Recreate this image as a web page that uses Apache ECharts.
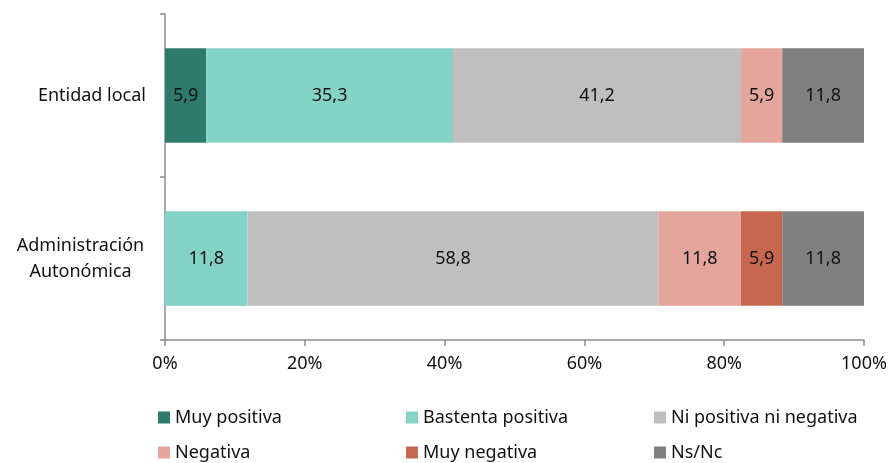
<!DOCTYPE html>
<html><head><meta charset="utf-8">
<script src="https://cdn.jsdelivr.net/npm/echarts@6/dist/echarts.min.js"></script>
<style>html,body{margin:0;padding:0;background:#fff}#c{width:891px;height:463px}</style>
</head><body><div id="c"></div>
<script>
const categories = ['Entidad local', 'Administración\nAutonómica'];
const seriesNames = ['Muy positiva', 'Bastenta positiva', 'Ni positiva ni negativa', 'Negativa', 'Muy negativa', 'Ns/Nc'];
const muyPositiva = [5.9, 0];
const bastentaPositiva = [35.3, 11.8];
const niPositiva = [41.2, 58.8];
const negativa = [5.9, 11.8];
const muyNegativa = [0, 5.9];
const nsNc = [11.8, 11.8];
const xTicks = [0, 20, 40, 60, 80, 100];
const colors = ['#2e7b6e', '#83d3c6', '#bfbfbf', '#e3a59c', '#c8674f', '#808080'];
const values = [muyPositiva, bastentaPositiva, niPositiva, negativa, muyNegativa, nsNc];

const FONT = 'Noto Sans';
const FS = 18;
const chart = echarts.init(document.getElementById('c'));
chart.setOption({
  animation: false,
  textStyle: { fontFamily: FONT },
  grid: { left: 165, right: 27, top: 14, bottom: 123 },
  xAxis: {
    type: 'value', min: xTicks[0], max: xTicks[xTicks.length - 1], interval: xTicks[1] - xTicks[0],
    axisLine: { show: true, lineStyle: { color: '#8c8c8c', width: 1.5 } },
    axisTick: { show: true, length: 6, lineStyle: { color: '#8c8c8c', width: 1.5 } },
    splitLine: { show: false },
    axisLabel: { color: '#111', fontSize: FS, margin: 15, formatter: v => v + '%' }
  },
  yAxis: {
    type: 'category', data: categories, inverse: true,
    axisLine: { show: true, lineStyle: { color: '#8c8c8c', width: 1.5 } },
    axisTick: { show: true, length: 5, lineStyle: { color: '#8c8c8c', width: 1.5 } },
    axisLabel: {
      color: '#111', fontSize: FS, margin: 19,
      formatter: v => v.indexOf('\n') >= 0 ? v.split('\n').map(s => '{c|' + s + '}').join('\n') : v,
      rich: { c: { width: 131, align: 'center', fontSize: FS, color: '#111', lineHeight: 26, fontFamily: FONT } }
    }
  },
  legend: {
    left: 153, top: 400, width: 760,
    itemWidth: 12, itemHeight: 12, itemGap: 10,
    icon: 'rect',
    data: seriesNames,
    textStyle: { fontSize: FS, color: '#111', width: 221, lineHeight: 25, padding: [0, 0, 0, 0] }
  },
  series: seriesNames.map((n, i) => ({
    name: n, type: 'bar', stack: 'total', barWidth: '58%',
    data: values[i],
    itemStyle: { color: colors[i] },
    label: {
      show: true, position: 'inside', color: '#111', fontSize: FS,
      formatter: p => p.value ? p.value.toFixed(1).replace('.', ',') : ''
    }
  }))
});
</script></body></html>
